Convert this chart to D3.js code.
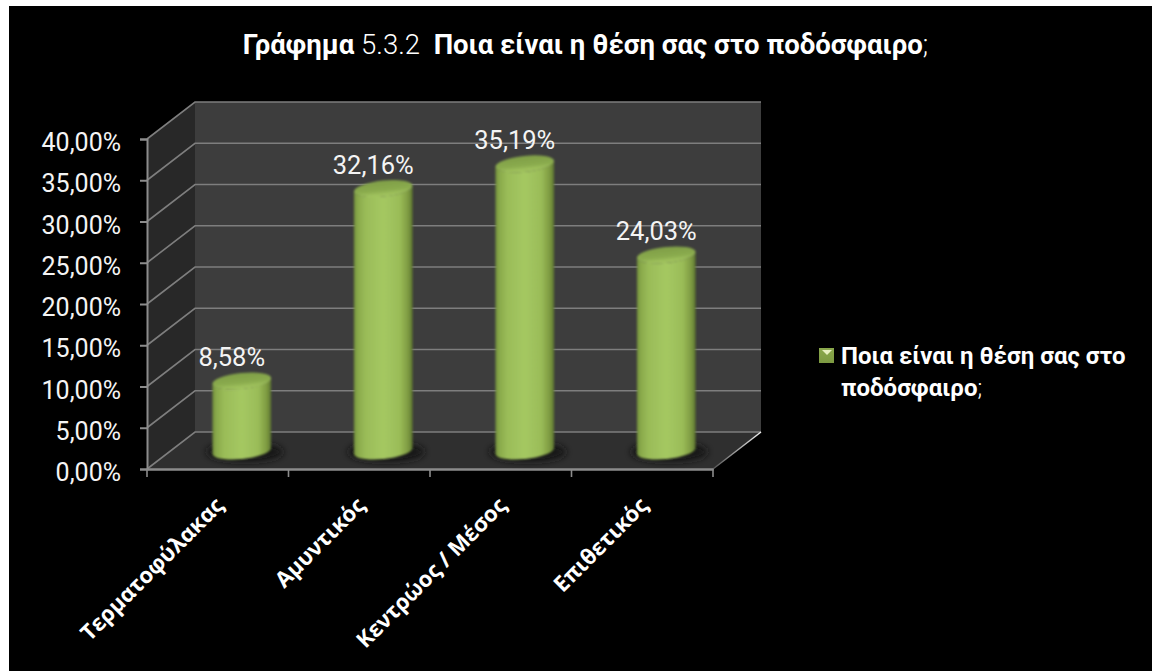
<!DOCTYPE html>
<html><head><meta charset="utf-8">
<script src="https://cdn.jsdelivr.net/npm/d3@7"></script>
<style>html,body{margin:0;padding:0;background:#fff}svg{display:block}</style>
</head><body><div id="c"></div>
<script>
const categories = ["Τερματοφύλακας","Αμυντικός","Κεντρώος / Μέσος","Επιθετικός"];
const values = [8.58,32.16,35.19,24.03];
const valueLabels = ["8,58%","32,16%","35,19%","24,03%"];
const yTicks = [0,5,10,15,20,25,30,35,40];
const legendLines = [[["Ποια είναι η θέση σας στο",700]],[["ποδόσφαιρο",700],[";",300]]];
const titleParts = [["Γράφημα ",700],["5.3.2",300],["\u00a0 Ποια είναι η θέση σας στο ποδόσφαιρο",700],[";",300]];

const W=1152,H=671, depthX=48, depthY=-37;
const svg=d3.select("#c").append("svg").attr("width",W).attr("height",H);
svg.append("rect").attr("x",9).attr("y",6).attr("width",W-9).attr("height",H-6).attr("fill","#000");

const x=d3.scaleBand().domain(categories).range([147,713]);
const y=d3.scaleLinear().domain([0,40]).range([469,139]);
const yBar=d3.scaleLinear().domain([0,40]).range([451,124.6]);
const F="Roboto, sans-serif";

const defs=svg.append("defs");
const barGrad=defs.append("linearGradient").attr("id","barG");
[[0,"#6f8c3a"],[.06,"#88a84a"],[.2,"#9abc58"],[.5,"#a5c862"],[.78,"#9abc58"],[.92,"#7f9c42"],[1,"#5c7530"]]
 .forEach(d=>barGrad.append("stop").attr("offset",d[0]).attr("stop-color",d[1]));
const capGrad=defs.append("linearGradient").attr("id","capG").attr("x1",0).attr("y1",0).attr("x2",0).attr("y2",1);
[[0,"#7f9e47"],[.6,"#8aab4e"],[.88,"#a0c25d"],[1,"#a3c660"]]
 .forEach(d=>capGrad.append("stop").attr("offset",d[0]).attr("stop-color",d[1]));
const swG=defs.append("linearGradient").attr("id","swG").attr("x1",0).attr("y1",0).attr("x2",0).attr("y2",1);
[[0,"#8aa84c"],[1,"#7d9a42"]].forEach(d=>swG.append("stop").attr("offset",d[0]).attr("stop-color",d[1]));
const edgeG=defs.append("linearGradient").attr("id","edgeG").attr("gradientUnits","userSpaceOnUse")
 .attr("x1",713).attr("y1",469).attr("x2",761).attr("y2",432);
[[0,"#555"],[1,"#eee"]].forEach(d=>edgeG.append("stop").attr("offset",d[0]).attr("stop-color",d[1]));
defs.append("filter").attr("id","soft").attr("x","-10%").attr("y","-10%").attr("width","120%").attr("height","120%")
 .append("feGaussianBlur").attr("stdDeviation",.8);
defs.append("filter").attr("id","shadow").attr("x","-40%").attr("y","-150%").attr("width","180%").attr("height","400%")
 .append("feGaussianBlur").attr("stdDeviation",3.5);

const [x0,x1]=x.range(), yB=y(0), yT=y(40);
const pts=a=>a.map(p=>p.join(",")).join(" ");
// walls and floor
svg.append("polygon").attr("points",pts([[x0+depthX,yT+depthY],[x1+depthX,yT+depthY],[x1+depthX,yB+depthY],[x0+depthX,yB+depthY]])).attr("fill","#3d3d3d");
svg.append("polygon").attr("points",pts([[x0,yT],[x0+depthX,yT+depthY],[x0+depthX,yB+depthY],[x0,yB]])).attr("fill","#282828");
svg.append("polygon").attr("points",pts([[x0,yB],[x0+depthX,yB+depthY],[x1+depthX,yB+depthY],[x1,yB]])).attr("fill","#2f2f2f");

// gridlines
const grid=svg.append("g").attr("fill","none").attr("stroke","#7e7e7e").attr("stroke-width",1.6);
grid.selectAll("path").data(yTicks).join("path")
 .attr("d",d=>`M${x0},${y(d)}L${x0+depthX},${y(d)+depthY}L${x1+depthX},${y(d)+depthY}`);
svg.append("line").attr("x1",x1).attr("y1",yB).attr("x2",x1+depthX).attr("y2",yB+depthY).attr("stroke","url(#edgeG)").attr("stroke-width",1.5);

// axes
const axL=svg.append("g").attr("transform",`translate(${x0},0)`)
 .call(d3.axisLeft(y).tickValues(yTicks).tickSize(7).tickPadding(19).tickFormat(d=>d3.format(".2f")(d).replace(".",",")+"%"));
axL.selectAll("path,line").attr("stroke","#8c8c8c").attr("stroke-width",2);
axL.selectAll("text").attr("font-family",F).attr("font-weight",400).attr("font-size",25).attr("fill","#f4f4f4").attr("dy","0.46em");
const axB=svg.append("g").attr("transform",`translate(0,${yB})`)
 .call(d3.axisBottom(x).tickSizeOuter(0).tickSize(0).tickFormat(""));
axB.selectAll("path").attr("stroke","#8c8c8c").attr("stroke-width",2.4);
axB.selectAll(".tick").remove();
axB.selectAll(".bt").data(d3.range(categories.length+1)).join("line")
 .attr("x1",i=>x0+i*x.bandwidth()).attr("x2",i=>x0+i*x.bandwidth()).attr("y1",0).attr("y2",8)
 .attr("stroke","#8c8c8c").attr("stroke-width",1.6);

// x labels
svg.append("g").selectAll("text").data(categories).join("text")
 .attr("transform",d=>`translate(${x(d)+x.bandwidth()/2+7},507) rotate(-45)`)
 .attr("text-anchor","end").attr("font-family","'Open Sans', sans-serif").attr("font-weight",700).attr("font-size",22).attr("fill","#fff")
 .text(d=>d);

// bars
const rx=29.5, ry=8, tiltDeg=-6, tilt=tiltDeg*Math.PI/180;
const data=categories.map((c,i)=>({c,v:values[i],l:valueLabels[i]}));
const cxOf=d=>x(d.c)+x.bandwidth()/2+depthX/2;
const lowerArc=d3.range(180,-1,-10).map(a=>a*Math.PI/180).map(a=>[
  rx*Math.cos(a)*Math.cos(tilt)-ry*Math.sin(a)*Math.sin(tilt),
  rx*Math.cos(a)*Math.sin(tilt)+ry*Math.sin(a)*Math.cos(tilt)]);
const bars=svg.append("g").selectAll("g").data(data).join("g");
bars.append("ellipse").attr("cx",d=>cxOf(d)+3).attr("cy",yBar(0)+1).attr("rx",rx+9).attr("ry",ry+2)
 .attr("fill","#141414").attr("filter","url(#shadow)");
const body=bars.append("g").attr("filter","url(#soft)");
body.append("polygon").attr("fill","url(#barG)").attr("points",d=>{
  const c=cxOf(d),top=yBar(d.v),bot=yBar(0);
  return pts(lowerArc.map(p=>[c+p[0],bot+p[1]]).concat(lowerArc.slice().reverse().map(p=>[c+p[0],top+p[1]])));
});
body.append("ellipse").attr("rx",rx).attr("ry",ry).attr("fill","url(#capG)")
 .attr("transform",d=>`translate(${cxOf(d)},${yBar(d.v)}) rotate(${tiltDeg})`);
bars.append("text").attr("x",d=>cxOf(d)-10).attr("y",d=>yBar(d.v)-15).attr("text-anchor","middle")
 .attr("font-family",F).attr("font-weight",400).attr("font-size",25.5).attr("fill","#f4f4f4").text(d=>d.l);

// title
const t=svg.append("text").attr("x",585.5).attr("y",54).attr("text-anchor","middle").attr("font-family",F).attr("font-size",27.5).attr("fill","#fff");
t.selectAll("tspan").data(titleParts).join("tspan").attr("font-weight",d=>d[1]).text(d=>d[0]);

// legend
const lg=svg.append("g");
lg.append("rect").attr("x",819).attr("y",348).attr("width",15).attr("height",15).attr("fill","url(#swG)");
lg.append("polygon").attr("points",pts([[822,350],[832,350],[827,355]])).attr("fill","#e6efc0");
lg.selectAll("text").data(legendLines).join("text").attr("x",841).attr("y",(d,i)=>364+i*31.5)
 .attr("font-family",F).attr("font-size",24).attr("fill","#fff")
 .selectAll("tspan").data(d=>d).join("tspan").attr("font-weight",d=>d[1]).text(d=>d[0]);
</script></body></html>
